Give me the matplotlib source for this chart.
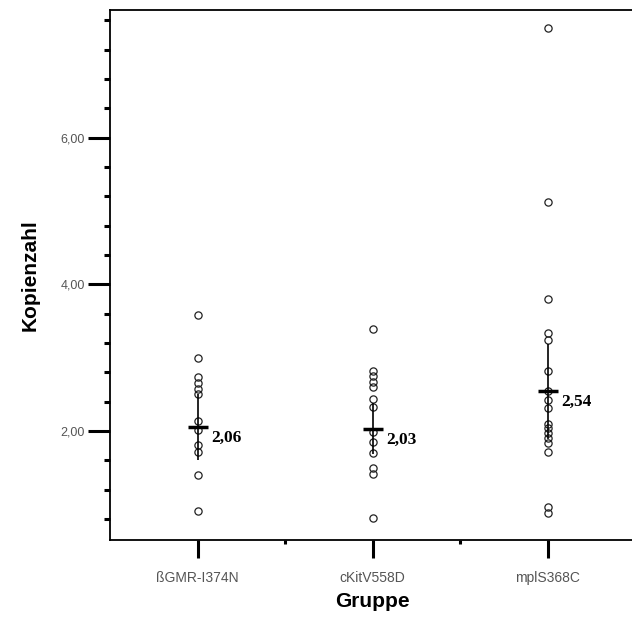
import matplotlib.pyplot as plt
from matplotlib.ticker import MultipleLocator, FixedLocator, FuncFormatter

# Kopienzahl pro Gruppe (Einzelwerte), Mittelwerte und 95%-KI
gruppen = ["ßGMR-I374N", "cKitV558D", "mplS368C"]
werte_gmr = [3.58, 2.99, 2.73, 2.65, 2.57, 2.50, 2.13, 2.01, 1.81, 1.72, 1.40, 0.91]
werte_ckit = [3.39, 2.82, 2.75, 2.67, 2.60, 2.43, 2.33, 1.99, 1.85, 1.70, 1.50, 1.42, 0.81]
werte_mpl = [7.50, 5.12, 3.80, 3.33, 3.24, 2.82, 2.55, 2.42, 2.31, 2.10, 2.04, 1.97,
             1.90, 1.83, 1.72, 0.97, 0.88]
mittelwerte = [2.06, 2.03, 2.54]
ki = [0.45, 0.35, 0.65]

fig = plt.figure(figsize=(6.32, 6.26), dpi=100)
ax = fig.add_axes([110 / 632, 1 - 540 / 626, 525 / 632, 530 / 626])

for i, werte in enumerate([werte_gmr, werte_ckit, werte_mpl]):
    ax.plot([i] * len(werte), werte, linestyle="none", marker="o", markersize=5.2,
            markerfacecolor="none", markeredgecolor="#222222", markeredgewidth=0.9)

pos = list(range(len(gruppen)))
ax.errorbar(pos, mittelwerte, yerr=ki, fmt="none", ecolor="black",
            elinewidth=1.2, capsize=0)
ax.plot(pos, mittelwerte, linestyle="none", marker="_", markersize=14,
        markeredgewidth=2.5, color="black")
for i, m in enumerate(mittelwerte):
    ax.annotate(f"{m:.2f}".replace(".", ","), (i, m), xytext=(10, -2),
                textcoords="offset points", va="top", ha="left",
                family="Liberation Serif", fontweight="bold", fontsize=12.5)

ax.set_xlim(-0.5, 2.5)
ax.set_ylim(0.514, 7.741)

ax.set_xticks(pos)
ax.set_xticklabels(gruppen)
ax.xaxis.set_minor_locator(FixedLocator([0.5, 1.5]))
ax.yaxis.set_major_locator(FixedLocator([2, 4, 6]))
ax.yaxis.set_minor_locator(MultipleLocator(0.4))
ax.yaxis.set_major_formatter(FuncFormatter(lambda v, p: f"{v:.2f}".replace(".", ",")))

ax.tick_params(axis="y", which="major", length=16, width=2.2, pad=2,
               labelsize=9, labelcolor="#555555")
ax.tick_params(axis="y", which="minor", length=4.5, width=2.2)
ax.tick_params(axis="x", which="major", length=13, width=2.2, pad=9,
               labelsize=10, labelcolor="#555555")
ax.tick_params(axis="x", which="minor", length=3, width=2.2)
for lab in ax.get_xticklabels() + ax.get_yticklabels():
    lab.set_family("Liberation Sans")

ax.spines["right"].set_visible(False)
for s in ["left", "top", "bottom"]:
    ax.spines[s].set_linewidth(1.3)

ax.set_ylabel("Kopienzahl", family="Liberation Sans", fontweight="bold", fontsize=15)
ax.set_xlabel("Gruppe", family="Liberation Sans", fontweight="bold", fontsize=15)
ax.yaxis.set_label_coords(-70 / 525, 0.5)
ax.xaxis.set_label_coords(0.5, -52 / 530)

fig.savefig("out.png", dpi=100)
